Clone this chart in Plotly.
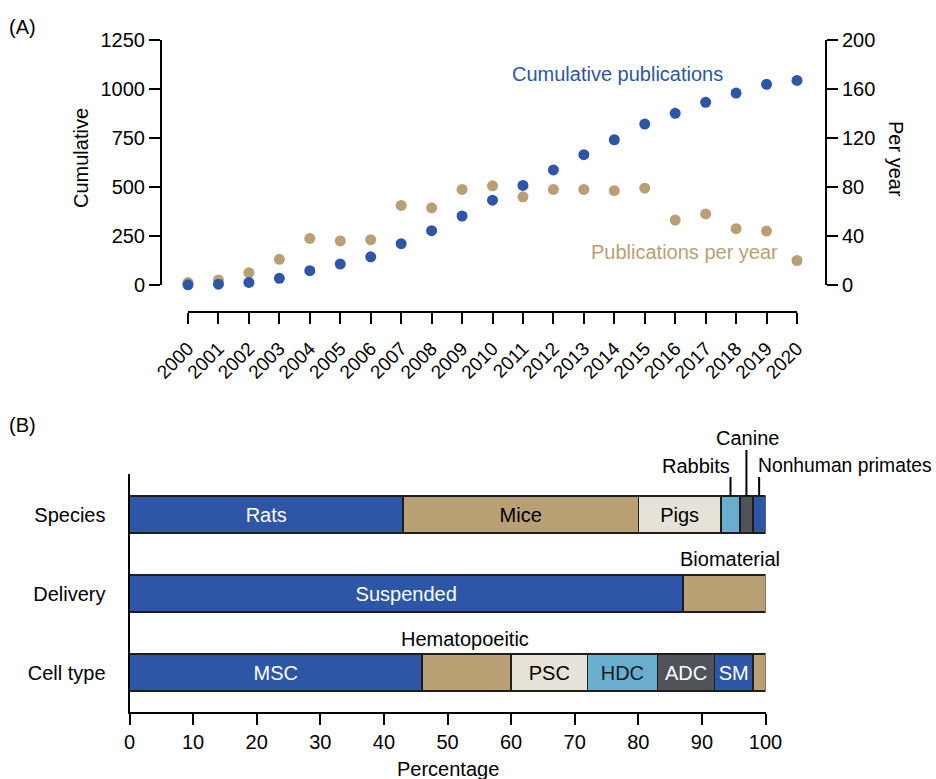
import plotly.graph_objects as go

# ---------------- Data ----------------
years = list(range(2000, 2021))
cumulative = [1, 4, 13, 34, 73, 107, 144, 211, 277, 352, 433, 508, 587, 665, 741, 821, 876, 932, 979, 1024, 1044]
per_year = [2, 4, 10, 21, 38, 36, 37, 65, 63, 78, 81, 72, 78, 78, 77, 79, 53, 58, 46, 44, 20]

cat_labels = ["Cell type", "Delivery", "Species"]

species_labels = ["Rats", "Mice", "Pigs", "Rabbits", "Canine", "Nonhuman primates"]
species_values = [43, 37, 13, 3, 2, 2]
delivery_labels = ["Suspended", "Biomaterial"]
delivery_values = [87, 13]
cell_labels = ["MSC", "Hematopoeitic", "PSC", "HDC", "ADC", "SM", "Other"]
cell_values = [46, 14, 12, 11, 9, 6, 2]

# ---------------- Styles ----------------
W, H = 936, 779
BLUE = "#2D56A6"
TAN = "#B99F74"
LIGHT = "#E6E2D7"
LBLUE = "#68AFCF"
DGRAY = "#50545A"
FONT = "Arial, Liberation Sans, sans-serif"

def px(xp):
    return xp / W

def py(yp):
    return 1 - yp / H

species_colors = [BLUE, TAN, LIGHT, LBLUE, DGRAY, BLUE]
species_tcol = ["white", "black", "black", "black", "white", "white"]
species_inside = [True, True, True, False, False, False]
delivery_colors = [BLUE, TAN]
delivery_tcol = ["white", "black"]
delivery_inside = [True, False]
cell_colors = [BLUE, TAN, LIGHT, LBLUE, DGRAY, BLUE, TAN]
cell_tcol = ["white", "black", "black", "#1a1a1a", "white", "white", "black"]
cell_inside = [True, False, True, True, True, True, False]

fig = go.Figure()

# ---------------- Panel A ----------------
fig.add_trace(go.Scatter(x=years, y=per_year, mode="markers", xaxis="x", yaxis="y",
                         marker=dict(size=11, color=TAN), cliponaxis=False,
                         name="Publications per year"))
fig.add_trace(go.Scatter(x=years, y=cumulative, mode="markers", xaxis="x", yaxis="y2",
                         marker=dict(size=11, color=BLUE), cliponaxis=False,
                         name="Cumulative publications"))

# ---------------- Panel B ----------------
BAR_W = 0.47
groups = [
    (2, species_labels, species_values, species_colors, species_tcol, species_inside),
    (1, delivery_labels, delivery_values, delivery_colors, delivery_tcol, delivery_inside),
    (0, cell_labels, cell_values, cell_colors, cell_tcol, cell_inside),
]
for ypos, labels, vals, cols, tcols, inside in groups:
    for lab, v, c, tc, ins in zip(labels, vals, cols, tcols, inside):
        fig.add_trace(go.Bar(
            x=[v], y=[ypos], orientation="h", xaxis="x2", yaxis="y3",
            width=BAR_W, marker=dict(color=c, line=dict(color="#1e1e1e", width=1.5)),
            text=[lab if ins else ""], textposition="inside", insidetextanchor="middle",
            textangle=0, constraintext="none",
            textfont=dict(color=tc, size=20, family=FONT), name=lab, showlegend=False))

# axis geometry (pixels)
A_X0, A_X1 = 188, 797          # 2000 .. 2020
A_YTOP, A_YBOT = 40, 285
B_X0, B_X1 = 129.5, 765.5
B_YTOP, B_YBOT = 474, 712
B_RANGE = [-0.5, 2.513]

axis_common = dict(showgrid=False, zeroline=False, showline=True, linecolor="black",
                   linewidth=2, ticks="outside", tickwidth=2, tickcolor="black",
                   automargin=False,
                   tickfont=dict(size=20, family=FONT, color="black"))

xa_top = {**axis_common, "tickfont": dict(size=19, family=FONT, color="black")}

fig.update_layout(
    width=W, height=H, margin=dict(l=0, r=0, t=0, b=0, autoexpand=False),
    paper_bgcolor="white", plot_bgcolor="white", showlegend=False,
    barmode="stack", font=dict(family=FONT, size=20, color="black"),
    xaxis=dict(domain=[px(A_X0), px(A_X1)], range=[2000, 2020], anchor="free",
               position=py(312), tickvals=years, tickangle=-45, ticklen=11,
               ticklabelstandoff=6, **xa_top),
    yaxis=dict(domain=[py(A_YBOT), py(A_YTOP)], range=[0, 200], tickvals=[0, 40, 80, 120, 160, 200],
               side="right", anchor="free", position=px(826), ticklen=11, **axis_common),
    yaxis2=dict(range=[0, 1250], tickvals=[0, 250, 500, 750, 1000, 1250], overlaying="y",
                side="left", anchor="free", position=px(161), ticklen=11, **axis_common),
    xaxis2=dict(domain=[px(B_X0), px(B_X1)], range=[0, 100], tickvals=list(range(0, 101, 10)),
                anchor="y3", ticklen=11, **axis_common),
    yaxis3=dict(domain=[py(B_YBOT), py(B_YTOP)], range=B_RANGE, tickvals=[0, 1, 2],
                ticktext=cat_labels, anchor="x2",
                **{**axis_common, "ticks": "outside", "tickcolor": "rgba(0,0,0,0)"}, ticklen=18),
)

def bar_y_paper(val):
    d0, d1 = py(B_YBOT), py(B_YTOP)
    return d0 + (val - B_RANGE[0]) / (B_RANGE[1] - B_RANGE[0]) * (d1 - d0)

ann = []
def add_text(text, x, y, xref="paper", xanchor="center", color="black", angle=0, size=20):
    ann.append(dict(text=text, x=x, y=y, xref=xref, yref="paper", xanchor=xanchor,
                    yanchor="middle", showarrow=False, textangle=angle,
                    font=dict(size=size, family=FONT, color=color)))

add_text("(A)", px(7), py(27), xanchor="left")
add_text("(B)", px(7), py(425), xanchor="left")
add_text("Cumulative", px(81), py(158), angle=-90)
add_text("Per year", px(896), py(159), angle=90)
add_text("Cumulative publications", px(617), py(74), color=BLUE)
add_text("Publications per year", px(684), py(252), color=TAN)
add_text("Percentage", px((B_X0 + B_X1) / 2), py(769))

# Species leader labels
starts = [sum(species_values[:i]) for i in range(len(species_values))]
centers = [s + v / 2 for s, v in zip(starts, species_values)]
bar_top = bar_y_paper(2 + BAR_W / 2)
shapes = []
leader_tops = {3: 477, 4: 450, 5: 477}
for i, top in leader_tops.items():
    shapes.append(dict(type="line", xref="x2", yref="paper", x0=centers[i], x1=centers[i],
                       y0=bar_top, y1=py(top), line=dict(color="black", width=2)))
add_text("Rabbits", centers[3] + 0.3, py(466), xref="x2", xanchor="right")
add_text("Canine", centers[4] + 0.2, py(438), xref="x2", xanchor="center")
add_text("Nonhuman primates", centers[5] - 0.55, py(466), xref="x2", xanchor="left", size=19.3)

# Delivery / cell labels
bio_center = delivery_values[0] + delivery_values[1] / 2
add_text("Biomaterial", bio_center + 0.9, py(559), xref="x2")
hem_center = cell_values[0] + cell_values[1] / 2
add_text("Hematopoeitic", hem_center - 0.3, py(639), xref="x2")
add_text("Other", 100 + 0.5, py(672), xref="x2", xanchor="left")

fig.update_layout(annotations=ann, shapes=shapes)
fig.write_html("out.html", config={"displayModeBar": False},
               post_script="document.body.style.margin='0';document.body.style.overflow='hidden';")
